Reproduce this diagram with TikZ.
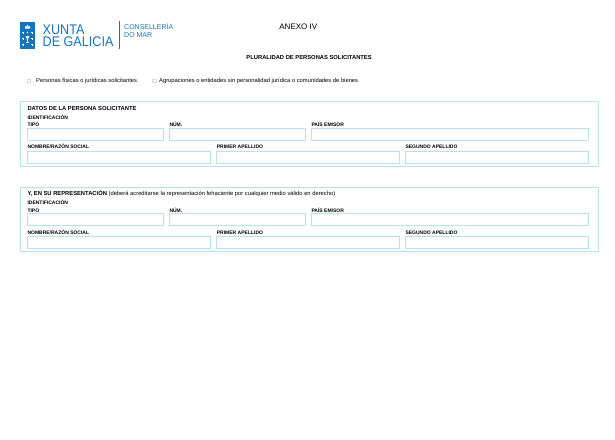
\documentclass[tikz,border=0pt]{standalone}
\usepackage{fontspec}
\setmainfont{Liberation Sans}
\usepackage{graphicx}
\usetikzlibrary{positioning}
\definecolor{xunta}{RGB}{22,116,186}
\definecolor{formline}{RGB}{186,224,242}
\tikzset{field/.style={draw=formline, line width=0.7pt, minimum height=12pt,
                       anchor=north west, inner sep=0pt, outer sep=0pt}}
\tikzset{seccion/.style={draw=formline, line width=1pt, minimum width=578pt,
                         minimum height=64.5pt, anchor=north west, inner sep=0pt}}
\tikzset{lbl/.style={font=\bfseries\fontsize{5}{6}\selectfont, inner sep=0pt, anchor=base west}}
\tikzset{head/.style={font=\bfseries\fontsize{5.8}{7}\selectfont, inner sep=0pt, anchor=base west}}
\tikzset{note/.style={font=\fontsize{5.8}{7}\selectfont, inner sep=0pt, anchor=base west}}
\tikzset{checkbox/.style={draw=gray!30, line width=0.4pt, minimum size=3.6pt, inner sep=0pt}}
\tikzset{logo/.style={text=xunta, inner sep=0pt, anchor=base west}}

\begin{document}
\begin{tikzpicture}[x=1pt,y=-1pt]
   \useasboundingbox[fill=white] (0,0) rectangle (615,439);

   % logo
   \fill[xunta] (20,22) rectangle (35,48.5);
   \fill[white] (25,28.5) -- (25,25.8) -- (26.2,27) -- (27.5,24.6) -- (28.8,27)
                -- (30,25.8) -- (30,28.5) -- cycle;
   \foreach \cx/\cy in {23/32.5, 32/32.5, 23/38.5, 32/38.5, 23/44.5, 32/44.5}
      \draw[white, line width=0.6pt] (\cx-1,\cy) -- (\cx+1,\cy) (\cx,\cy-1) -- (\cx,\cy+1);
   \fill[white] (27.5,32.5) circle (0.8);
   \fill[white] (25.6,36) -- (29.4,36) -- (28,39.2) -- (27,39.2) -- cycle;
   \fill[white] (27.2,39) rectangle (27.8,42.5);
   \fill[white] (26,42.3) rectangle (29,43.2);

   \node[logo, font=\fontsize{14}{15}\selectfont] (xunta) at (42.5,34) {\scalebox{.9}[1]{XUNTA}};
   \node[logo, font=\fontsize{14}{15}\selectfont] (galicia) at (42.5,46.7) {\scalebox{.9}[1]{DE GALICIA}};
   \draw[xunta, line width=0.6pt] (119,21) -- (119,48.5);
   \node[logo, font=\fontsize{7}{8}\selectfont] (conse) at (124,29.5) {CONSELLERÍA};
   \node[logo, font=\fontsize{7}{8}\selectfont] (mar) at (124,37.3) {DO MAR};

   % titulos
   \node[font=\fontsize{8}{10}\selectfont, inner sep=0pt, anchor=base] (anexo) at (298.3,29) {ANEXO IV};
   \node[head, anchor=base] (titulo) at (309.1,59) {PLURALIDAD DE PERSONAS SOLICITANTES};

   % opciones
   \node[checkbox] (cb1) at (28.8,80.8) {};
   \node[note] (op1) at (36,82.3) {Personas físicas o jurídicas solicitantes};
   \node[checkbox] (cb2) at (154.3,80.8) {};
   \node[note] (op2) at (159,82.3) {Agrupaciones o entidades sin personalidad jurídica o comunidades de bienes};

   % seccions
   \foreach \s/\dy/\titulo in {1/0/{DATOS DE LA PERSONA SOLICITANTE},
      2/85.5/{Y, EN SU REPRESENTACIÓN \textmd{(deberá acreditarse la representación fehaciente por cualquier medio válido en derecho)}}}
   {
      \begin{scope}[yshift=-\dy pt]
         \node[seccion] (sec\s) at (20,101) {};
         \node[head] (tit\s) at (27.3,110) {\titulo};
         \node[lbl] (ident\s) at (27.3,119) {IDENTIFICACIÓN};

         \node[field, minimum width=136pt]   (tipo\s) at (27.3,128.3) {};
         \node[field, minimum width=136pt]   (num\s)  at (169.3,128.3) {};
         \node[field, minimum width=277.4pt] (pais\s) at (311.3,128.3) {};
         \node[field, minimum width=183.4pt] (nome\s) at (27.3,151) {};
         \node[field, minimum width=182.6pt] (ape1\s) at (216.7,151) {};
         \node[field, minimum width=183.4pt] (ape2\s) at (405.3,151) {};

         \node[lbl] (ltipo\s) at ([yshift=1.8pt]tipo\s.north west) {TIPO};
         \node[lbl] (lnum\s)  at ([yshift=1.8pt]num\s.north west)  {NÚM.};
         \node[lbl] (lpais\s) at ([yshift=1.8pt]pais\s.north west) {PAÍS EMISOR};
         \node[lbl] (lnome\s) at ([yshift=2.4pt]nome\s.north west) {NOMBRE/RAZÓN SOCIAL};
         \node[lbl] (lape1\s) at ([yshift=2.4pt]ape1\s.north west) {PRIMER APELLIDO};
         \node[lbl] (lape2\s) at ([yshift=2.4pt]ape2\s.north west) {SEGUNDO APELLIDO};
      \end{scope}
   }
\end{tikzpicture}
\end{document}
